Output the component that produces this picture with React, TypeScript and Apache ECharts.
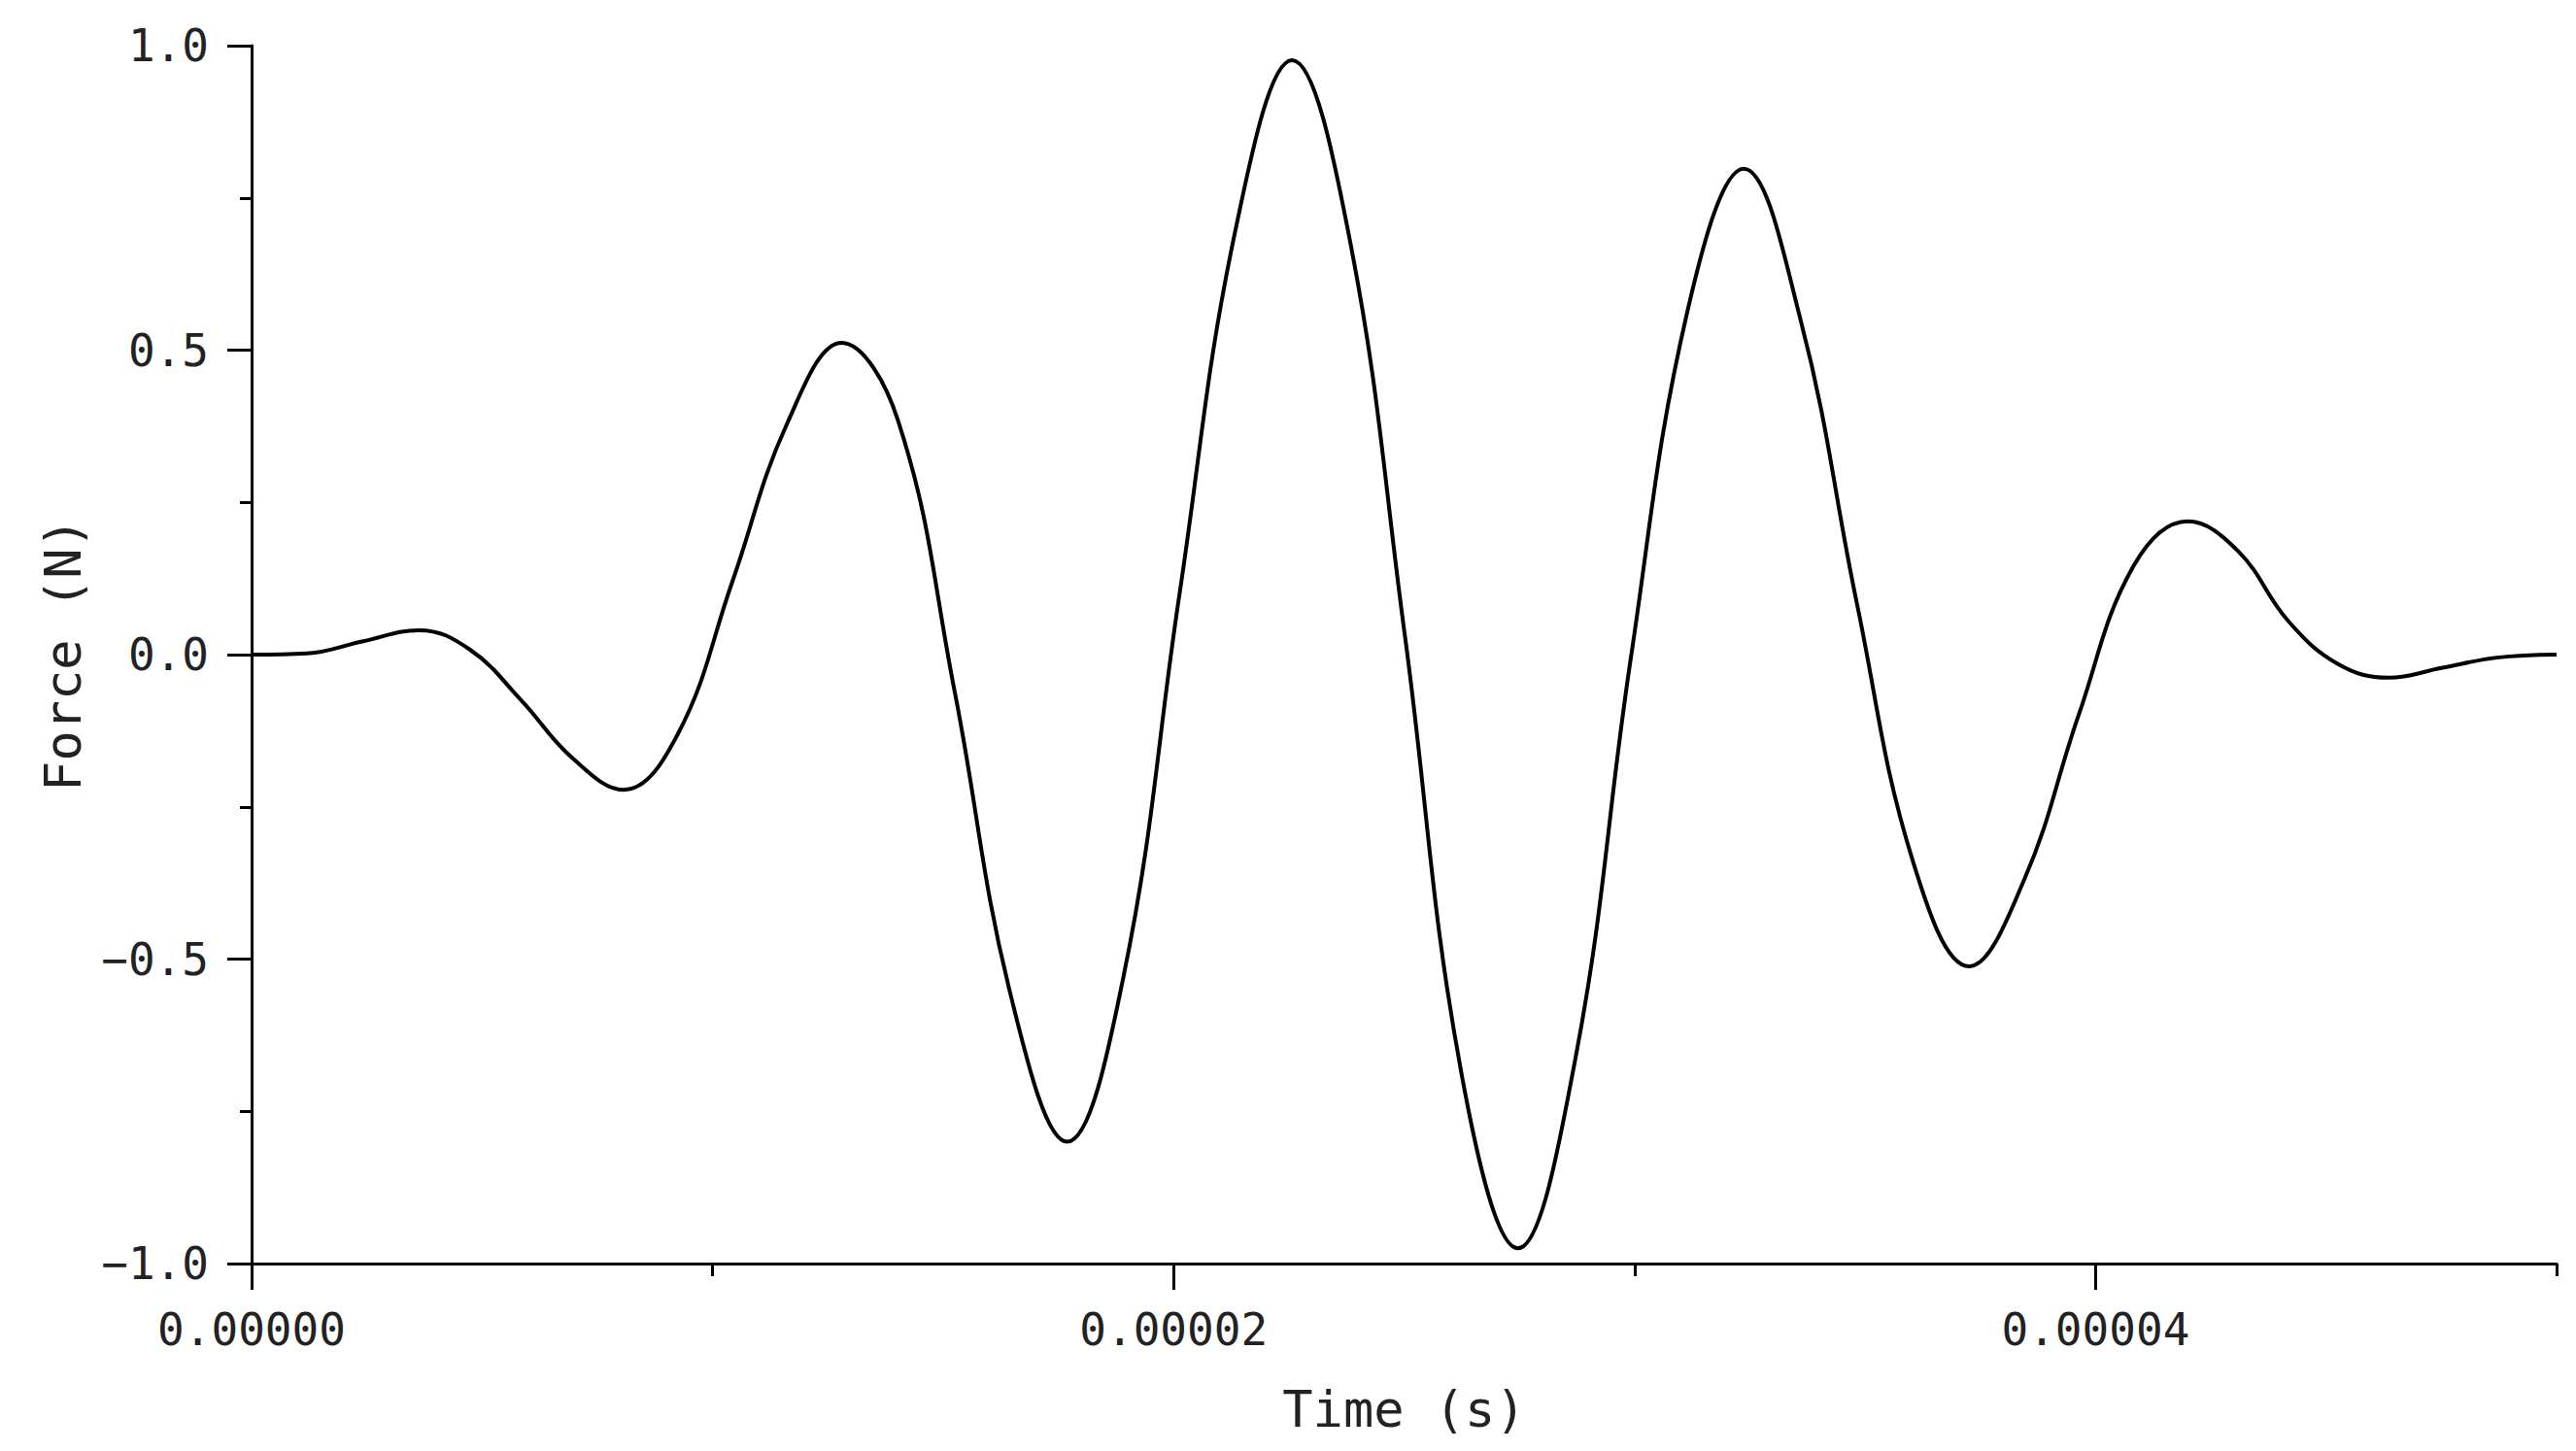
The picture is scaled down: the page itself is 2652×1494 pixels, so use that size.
import React, { useEffect, useRef } from "react";
import * as echarts from "echarts";

// Time samples in microseconds: each turning point plus evenly spaced points between turning points,
// values
const timeUs = [
  0, 1.21, 2.42, 3.63, 4.74, 5.85, 6.96, 8.07, 9.25, 10.43, 11.62, 12.8, 14.02, 15.25, 16.47, 17.69,
  18.91, 20.13, 21.35, 22.57, 23.8, 25.02, 26.25, 27.47, 28.7, 29.92, 31.15, 32.37, 33.6, 34.82, 36.04,
  37.26, 38.45, 39.63, 40.82, 42.0, 43.09, 44.18, 45.27, 46.36, 47.5, 48.7, 50,
];

// Force values (N) at those times
const forceN = [
  0, 0.002, 0.022, 0.04, 0.008, -0.075, -0.17, -0.222, -0.13, 0.12, 0.38, 0.512, 0.385, -0.06, -0.56, -0.8,
  -0.53, 0.1, 0.7, 0.976, 0.69, 0.03, -0.69, -0.975, -0.67, -0.005, 0.565, 0.798, 0.55, 0.085, -0.34,
  -0.512, -0.37, -0.1, 0.145, 0.219, 0.17, 0.055, -0.016, -0.038, -0.022, -0.005, 0,
];

const xMajorTicks = [0, 0.00002, 0.00004];
const xMinorTicks = [0.00001, 0.00003, 0.00005];
const xMin = 0;
const xMax = 0.00005;
const yMin = -1;
const yMax = 1;
const yInterval = 0.5;

const W = 2652;
const H = 1494;
const GRID = { left: 259, right: 20, top: 47, bottom: 193 };

export default function App() {
  const ref = useRef<HTMLDivElement>(null);
  useEffect(() => {
    if (!ref.current) return;
    const chart = echarts.init(ref.current, undefined, { renderer: "svg" });
    const data = timeUs.map((t, i) => [t * 1e-6, forceN[i]]);
    const gridH = H - GRID.top - GRID.bottom;
    const tickFont = "DejaVu Sans Mono";
    chart.setOption({
      animation: false,
      backgroundColor: "#ffffff",
      grid: { ...GRID, containLabel: false },
      xAxis: [
        {
          type: "value",
          min: xMin,
          max: xMax,
          position: "bottom",
          name: "Time (s)",
          nameLocation: "middle",
          nameGap: 124,
          nameTextStyle: { fontFamily: tickFont, fontSize: 52, color: "#222" },
          axisLine: { show: true, onZero: false, lineStyle: { color: "#000", width: 3 } },
          axisTick: { show: true, length: 27, lineStyle: { color: "#000", width: 3 }, customValues: xMajorTicks },
          axisLabel: {
            show: true,
            customValues: xMajorTicks,
            margin: 45,
            fontFamily: tickFont,
            fontSize: 46,
            color: "#222",
            formatter: (v: number) => v.toFixed(5),
          },
          splitLine: { show: false },
        },
        {
          type: "value",
          min: xMin,
          max: xMax,
          position: "top",
          offset: -gridH,
          axisLine: { show: false, onZero: false },
          axisTick: { show: true, inside: true, length: 13, lineStyle: { color: "#000", width: 3 }, customValues: xMinorTicks },
          axisLabel: { show: false },
          splitLine: { show: false },
        },
      ],
      yAxis: {
        type: "value",
        min: yMin,
        max: yMax,
        interval: yInterval,
        name: "Force (N)",
        nameLocation: "middle",
        nameGap: 168,
        nameTextStyle: { fontFamily: tickFont, fontSize: 52, color: "#222" },
        axisLine: { show: true, onZero: false, lineStyle: { color: "#000", width: 3 } },
        axisTick: { show: true, length: 25, lineStyle: { color: "#000", width: 3 } },
        minorTick: { show: true, splitNumber: 2, length: 12, lineStyle: { color: "#000", width: 3 } },
        axisLabel: {
          margin: 44,
          fontFamily: tickFont,
          fontSize: 46,
          color: "#222",
          formatter: (v: number) => v.toFixed(1).replace("-", "\u2212"),
        },
        splitLine: { show: false },
        minorSplitLine: { show: false },
      },
      series: [
        {
          type: "line",
          xAxisIndex: 0,
          data,
          smooth: 0.4,
          showSymbol: false,
          symbol: "none",
          lineStyle: { color: "#000", width: 4 },
        },
      ],
    });
    return () => chart.dispose();
  }, []);
  return (
    <div
      ref={ref}
      style={{ position: "absolute", left: 0, top: 0, width: W, height: H, background: "#fff" }}
    />
  );
}
